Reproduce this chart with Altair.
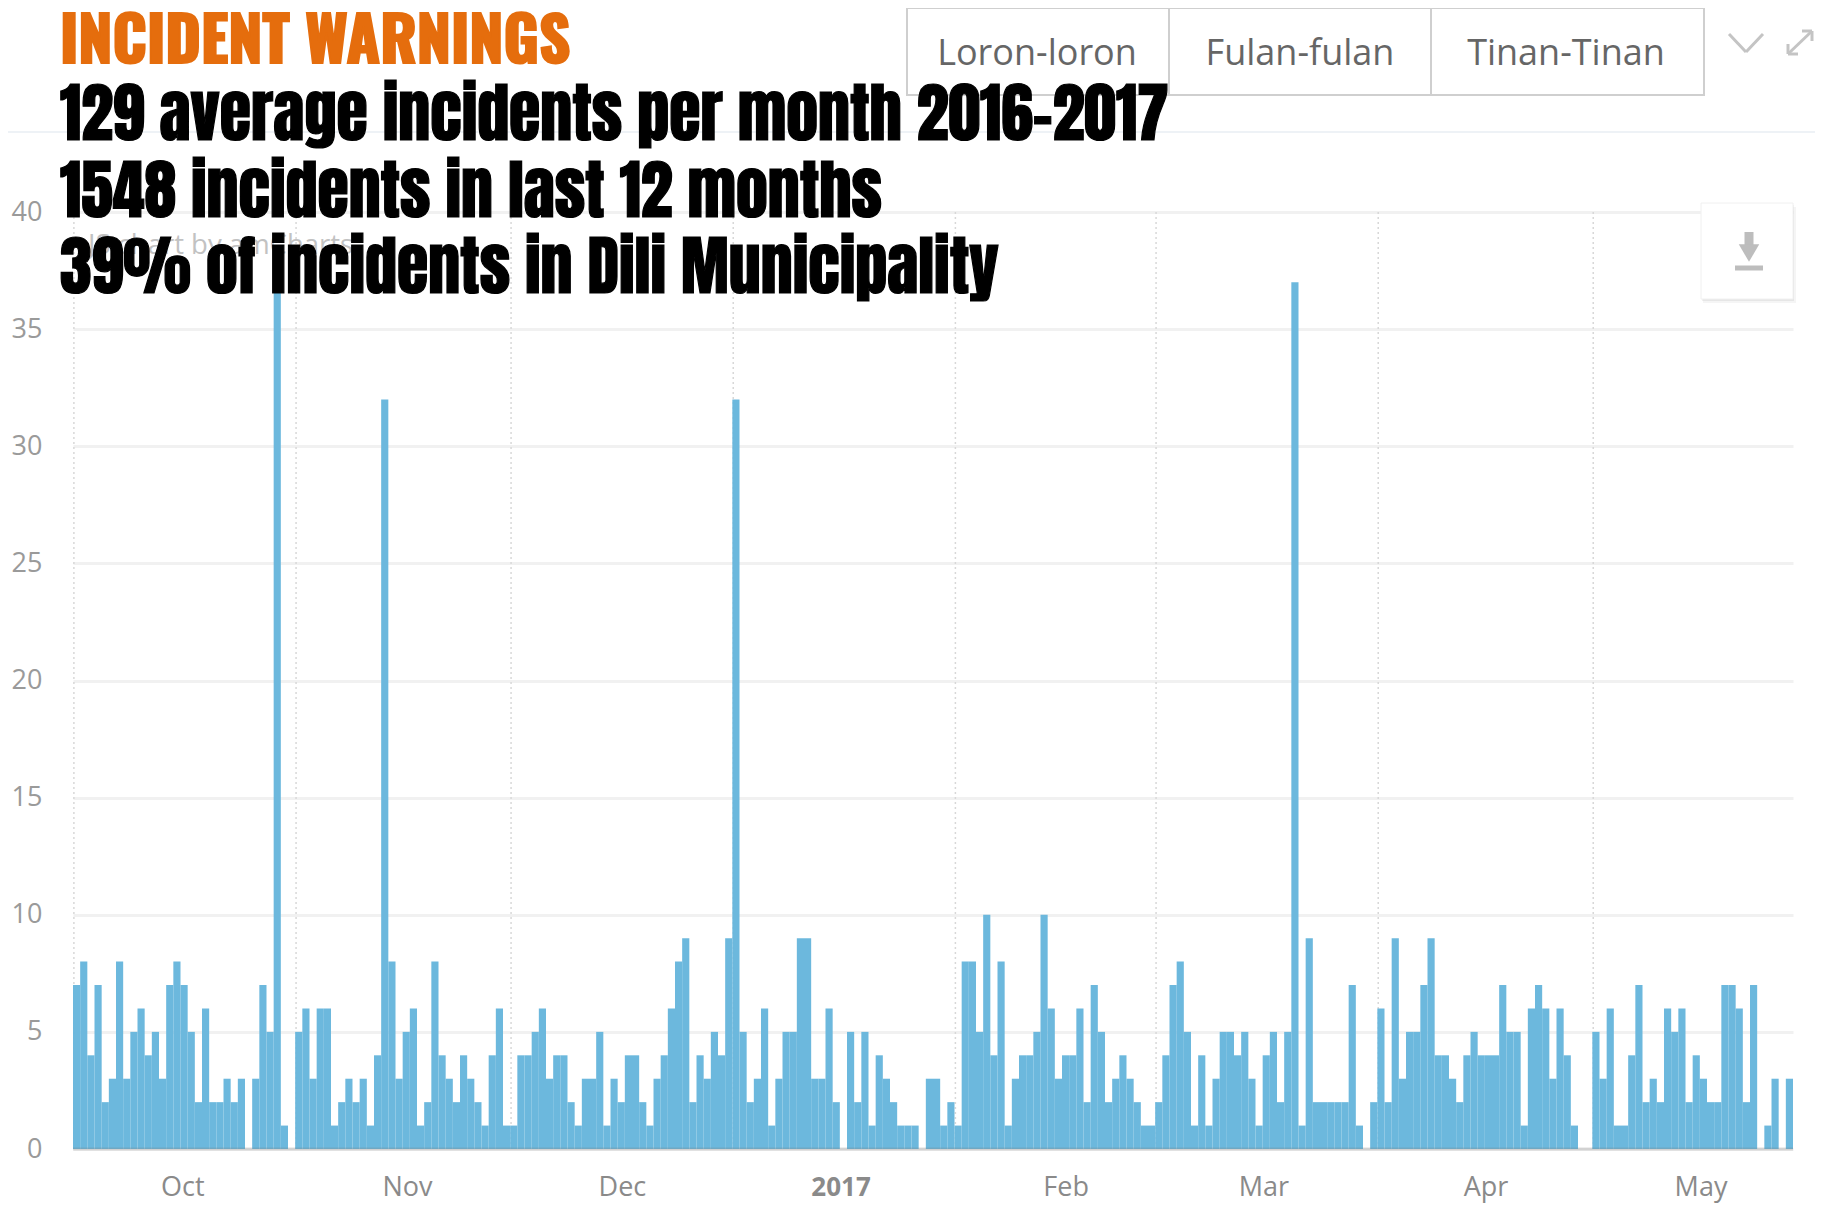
import altair as alt
import pandas as pd

# Daily incident counts
oct_2016 = [7,8,4,7,2,3,8,3,5,6,4,5,3,7,8,7,5,2,6,2,2,3,2,3,0,3,7,5,37,1,0]
nov_2016 = [5,6,3,6,6,1,2,3,2,3,1,4,32,8,3,5,6,1,2,8,4,3,2,4,3,2,1,4,6,1]
dec_2016 = [1,4,4,5,6,3,4,4,2,1,3,3,5,1,3,2,4,4,2,1,3,4,6,8,9,2,4,3,5,4,9]
jan_2017 = [32,5,2,3,6,1,3,5,5,9,9,3,3,6,2,0,5,2,5,1,4,3,2,1,1,1,0,3,3,1,2]
feb_2017 = [1,8,8,5,10,4,8,1,3,4,4,5,10,6,3,4,4,6,2,7,5,2,3,4,3,2,1,1]
mar_2017 = [2,4,7,8,5,1,4,1,3,5,5,4,5,3,1,4,5,2,5,37,1,9,2,2,2,2,2,7,1,0,2]
apr_2017 = [6,2,9,3,5,5,7,9,4,4,3,2,4,5,4,4,4,7,5,5,1,6,7,6,3,6,4,1,0,0]
may_2017 = [5,3,6,1,1,4,7,2,3,2,6,5,6,2,4,3,2,2,7,7,6,2,7,0,1,3,0,3]

month_label_dates = ["2016-10-16T08:00:00Z","2016-11-16T16:00:00Z","2016-12-16T16:00:00Z","2017-01-16T04:00:00Z",
                     "2017-02-16T14:00:00Z","2017-03-16T04:00:00Z","2017-04-16T04:00:00Z","2017-05-16T04:00:00Z"]
month_labels = ["Oct","Nov","Dec","2017","Feb","Mar","Apr","May"]
month_starts = ["2016-10-01T03:00:00Z","2016-11-01T03:00:00Z","2016-12-01T03:00:00Z","2017-01-01T03:00:00Z",
                "2017-02-01T03:00:00Z","2017-03-01T03:00:00Z","2017-04-01T03:00:00Z","2017-05-01T03:00:00Z"]
y_ticks = [0,5,10,15,20,25,30,35,40]
tab_labels = ["Loron-loron","Fulan-fulan","Tinan-Tinan"]
headline = "INCIDENT WARNINGS"
stat_lines = ["129 average incidents per month 2016-2017","1548 incidents in last 12 months","39% of incidents in Dili Municipality"]

counts = oct_2016+nov_2016+dec_2016+jan_2017+feb_2017+mar_2017+apr_2017+may_2017
days = pd.date_range("2016-10-01", periods=len(counts), freq="D")
df = pd.DataFrame({"start": days.strftime("%Y-%m-%d"),
                   "end": (days + pd.Timedelta(days=1)).strftime("%Y-%m-%d"),
                   "count": counts})

OX, OY = 73, 212   # page position of the plot area's top-left corner
W, H = 1720, 937
one = {"values": [{"k": 1}]}
FONT = "Open Sans"
HEAD = "Anton, Oswald, 'Roboto Condensed', 'Open Sans Condensed', 'DejaVu Sans Condensed'"
HEAD2 = "Oswald, Anton, 'Roboto Condensed', 'Open Sans Condensed', 'DejaVu Sans Condensed'"

def px(v): return alt.value(v - OX)
def py(v): return alt.value(v - OY)

def box(x1, x2, y1, y2, **kw):
    return alt.Chart(one).mark_rect(**kw).encode(x=px(x1), x2=px(x2), y=py(y1), y2=py(y2))
def seg(x1, x2, y1, y2, **kw):
    return alt.Chart(one).mark_rule(**kw).encode(x=px(x1), x2=px(x2), y=py(y1), y2=py(y2))
def label(t, x, y, **kw):
    return alt.Chart({"values": [{"t": t}]}).mark_text(**kw).encode(x=px(x), y=py(y), text="t:N")

x_scale = alt.Scale(type="utc", domain=["2016-10-01", "2017-05-29"])
y_scale = alt.Scale(domain=[0, 40], nice=False)

month_grid = alt.Chart(pd.DataFrame({"d": month_starts})).mark_rule(
    color="#d8d8d8", strokeWidth=1.5, strokeDash=[2, 3]).encode(
    x=alt.X("d:T", scale=x_scale, axis=None), y=alt.value(0), y2=alt.value(H))

bars = alt.Chart(df).mark_rect(color="#67B6DC", opacity=0.97).encode(
    x=alt.X("start:T", scale=x_scale, axis=None),
    x2="end:T",
    y=alt.Y("count:Q", scale=y_scale, title=None,
            axis=alt.Axis(values=y_ticks, grid=True, gridColor="#f1f1f1", gridWidth=3,
                          ticks=False, domain=False, labelFont=FONT, labelFontSize=27,
                          labelColor="#9a9a9a", labelPadding=31)),
    y2=alt.datum(0),
)
baseline = seg(OX, OX + W, OY + H, OY + H, color="#777777", opacity=0.25, strokeWidth=3)

month_df = pd.DataFrame({"d": month_label_dates, "t": month_labels})
months = alt.Chart(month_df).transform_filter("datum.t != '2017'").mark_text(
    font=FONT, fontSize=27, color="#8a8a8a", baseline="middle").encode(
    x=alt.X("d:T", scale=x_scale, axis=None), y=py(1188), text="t:N")
year_label = alt.Chart(month_df).transform_filter("datum.t == '2017'").mark_text(
    font=FONT, fontSize=26, fontWeight="bold", color="#8a8a8a", baseline="middle").encode(
    x=alt.X("d:T", scale=x_scale, axis=None), y=py(1188), text="t:N")

widgets = [
    seg(0, 1822, 132, 132, color="#eef2f6", strokeWidth=2),
    box(907, 1704, 8, 95, fill="white", stroke="#cfcfcf", strokeWidth=2),
    seg(1169, 1169, 8, 95, color="#cfcfcf", strokeWidth=2),
    seg(1431, 1431, 8, 95, color="#cfcfcf", strokeWidth=2),
    label(tab_labels[0], 1037, 54, font=FONT, fontSize=36, color="#666666", align="center", baseline="middle"),
    label(tab_labels[1], 1300, 54, font=FONT, fontSize=36, color="#666666", align="center", baseline="middle"),
    label(tab_labels[2], 1566, 54, font=FONT, fontSize=36, color="#666666", align="center", baseline="middle"),
    seg(1729, 1746, 34, 52, color="#c4c4c4", strokeWidth=3),
    seg(1746, 1763, 52, 34, color="#c4c4c4", strokeWidth=3),
    seg(1788, 1812, 54, 31, color="#c4c4c4", strokeWidth=3),
    seg(1802, 1812, 31, 31, color="#c4c4c4", strokeWidth=3),
    seg(1812, 1812, 31, 41, color="#c4c4c4", strokeWidth=3),
    seg(1788, 1798, 54, 54, color="#c4c4c4", strokeWidth=3),
    seg(1788, 1788, 44, 54, color="#c4c4c4", strokeWidth=3),
    box(1703, 1796, 207, 303, fill="#000000", opacity=0.04),
    box(1702, 1794, 205, 301, fill="#000000", opacity=0.06),
    box(1701, 1793, 203, 299, fill="white", stroke="#f0f0f0", strokeWidth=1),
    seg(1749, 1749, 232, 250, color="#bdbdbd", strokeWidth=9),
    seg(1735, 1763, 268, 268, color="#bdbdbd", strokeWidth=5),
    alt.Chart(one).mark_point(shape="triangle-down", filled=True, color="#bdbdbd", opacity=1, size=420).encode(x=px(1749), y=py(253)),
    label("JS chart by amCharts", 88, 246, font=FONT, fontSize=27.5, color="#c2c2c2", align="left", baseline="middle"),
]

HS = 64
heads = [
    label(headline, 60, 63, font=HEAD2, fontWeight="bold", fontSize=61, color="#E56D0D", stroke="#E56D0D", strokeWidth=2,
          align="left", baseline="alphabetic"),
    label(stat_lines[0], 60, 140, font=HEAD, fontSize=HS, color="#000000", stroke="#000000", strokeWidth=1.2, align="left", baseline="alphabetic"),
    label(stat_lines[1], 60, 217, font=HEAD, fontSize=HS, color="#000000", stroke="#000000", strokeWidth=1.2, align="left", baseline="alphabetic"),
    label(stat_lines[2], 60, 293, font=HEAD, fontSize=HS, color="#000000", stroke="#000000", strokeWidth=1.2, align="left", baseline="alphabetic"),
]

chart = alt.layer(month_grid, bars, baseline, months, year_label, *widgets, *heads).properties(
    width=W, height=H,
    autosize=alt.AutoSizeParams(type="none"),
    padding={"left": OX - 8, "top": OY - 8, "right": 22, "bottom": 56},
    background="white",
).configure_view(stroke=None)

chart.save("out.html", embed_options={"renderer": "svg", "actions": False})
